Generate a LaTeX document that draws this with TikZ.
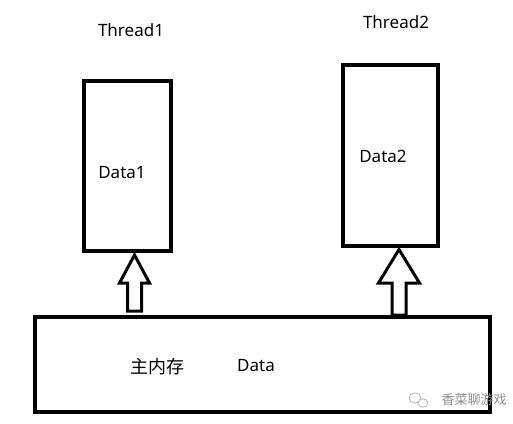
\documentclass[tikz,border=0pt]{standalone}
\usepackage{fontspec}
\setmainfont{Noto Sans}
\newfontfamily\cjk{Noto Sans CJK SC}
\begin{document}
\begin{tikzpicture}[x=1pt,y=-1pt,
  box/.style={draw=black,line width=4pt,inner sep=0pt,outer sep=0pt},
  hollow/.style={draw=black,line width=3pt,line join=miter,fill=white},
  lbl/.style={font=\fontsize{17}{20}\selectfont,inner sep=0pt},
  wm/.style={font=\cjk\fontsize{13}{15}\selectfont,text=black!45,inner sep=0pt}]
\useasboundingbox[fill=white] (0,0) rectangle (513,423);
% boxes
\node[box,minimum width=87pt,minimum height=170pt] (t1) at (127.5,166) {};
\node[box,minimum width=95pt,minimum height=181pt] (t2) at (390.5,155.5) {};
\node[box,minimum width=455pt,minimum height=95pt] (mem) at (262.5,364.5) {};
% labels
\node[lbl] (th1) at (131,30) {Thread1};
\node[lbl] (th2) at (396,22) {Thread2};
\node[lbl] (d1) at (122,173) {Data1};
\node[lbl] (d2) at (383,156) {Data2};
\node[lbl,font=\cjk\fontsize{18}{20}\selectfont] (zh) at (157,367) {主内存};
\node[lbl] (dm) at (256,366) {Data};
% hollow arrows
\coordinate (a1) at (134.5,255);
\draw[hollow] (a1) -- ++(15,28) -- ++(-8,0) -- ++(0,28) -- ++(-14,0) -- ++(0,-28) -- ++(-8,0) -- cycle;
\coordinate (a2) at (399,249.5);
\draw[hollow] (a2) -- ++(20.5,33.5) -- ++(-13.5,0) -- ++(0,32) -- ++(-14,0) -- ++(0,-32) -- ++(-13.5,0) -- cycle;
% watermark
\draw[black!30,line width=0.8pt] (415,398) ellipse (6 and 5);
\draw[black!30,line width=0.8pt,fill=white] (423,403) ellipse (5 and 4.2);
\node[wm] (w) at (474,400) {香菜聊游戏};
\end{tikzpicture}
\end{document}
